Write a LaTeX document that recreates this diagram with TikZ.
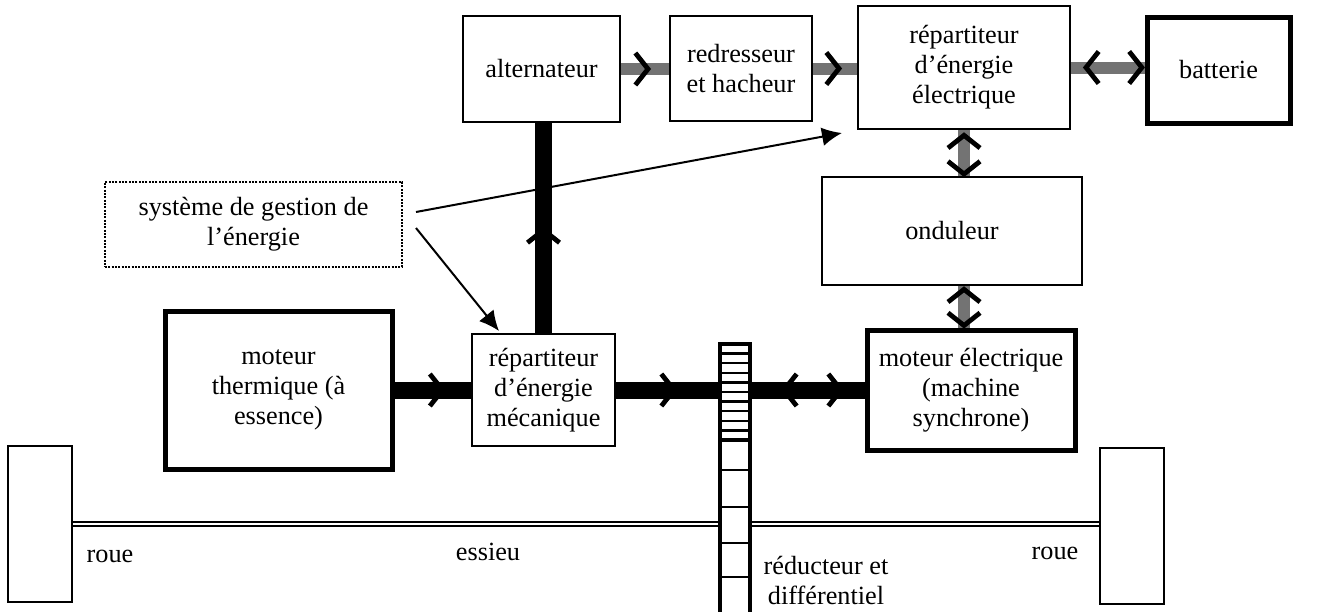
\documentclass[tikz,border=0pt]{standalone}
\usepackage{fontspec}
\setmainfont{Liberation Serif}
\usetikzlibrary{arrows.meta,decorations.markings}
\tikzset{
  box/.style={draw,line width=1.5pt,fill=white,align=center,inner sep=0pt},
  heavybox/.style={box,line width=3.75pt},
  elec/.style={line width=9pt,black!55},
  meca/.style={line width=12.75pt},
  fwd/.style={postaction={decorate,decoration={markings,mark=at position #1 with {\draw[black,line width=3.6pt,line join=miter] (-9.5pt,-12pt) -- (0pt,0pt) -- (-9.5pt,12pt);}}}},
  bwd/.style={postaction={decorate,decoration={markings,mark=at position #1 with {\draw[black,line width=3.6pt,line join=miter] (9.5pt,-12pt) -- (0pt,0pt) -- (9.5pt,12pt);}}}},
  ctrl/.style={-{Latex[length=15pt,width=14pt]},line width=1.5pt},
  rung/.style={line width=1.9pt}
}
\begin{document}
\begin{tikzpicture}[x=0.75pt,y=-0.75pt,font=\fontsize{19.7}{22.5}\selectfont]
\useasboundingbox (0,0) rectangle (1327,611);
\node[box,minimum width=117.75pt,minimum height=79.5pt] (alt) at (541.5,69) {alternateur};
\node[box,minimum width=106.5pt,minimum height=78.75pt] (redr) at (741,68.5) {redresseur\\et hacheur};
\node[box,minimum width=159pt,minimum height=92.25pt] (repel) at (964,67.5) {répartiteur\\d’énergie\\électrique};
\node[heavybox,minimum width=107.25pt,minimum height=79.5pt] (batt) at (1218.5,70) {batterie};
\node[box,minimum width=195pt,minimum height=81pt] (ond) at (952,231) {onduleur};
\node[heavybox,minimum width=156pt,minimum height=90pt] (motel) at (971,390) {moteur électrique\\(machine\\synchrone)};
\node[heavybox,minimum width=170.25pt,minimum height=118.5pt] (mth) at (278.5,390) {moteur\\thermique (à\\essence)};
\node[box,minimum width=107.25pt,minimum height=84pt] (repmec) at (543.5,390) {répartiteur\\d’énergie\\mécanique};
\node[box,densely dotted,minimum width=222.75pt,minimum height=63.75pt] (gest) at (253.5,224.5) {système de gestion de\\l’énergie};
\node[draw,line width=2pt,minimum width=48pt,minimum height=117pt] (rouel) at (40,524) {};
\node[draw,line width=2pt,minimum width=48pt,minimum height=117pt] (rouer) at (1132,526) {};
\draw[elec,fwd=20.25pt] (alt.east) -- (alt.east -| redr.west);
\draw[elec,fwd=19.5pt] (redr.east) -- (redr.east -| repel.west);
\draw[elec,bwd=11.25pt,fwd=-2pt] (repel.east) -- (repel.east -| batt.west);
\draw[elec,bwd=4pt,fwd=-1.5pt] (repel.south) -- (repel.south |- ond.north);
\draw[elec,bwd=2.5pt,fwd=-1.5pt] (repel.south |- ond.south) -- (repel.south |- motel.north);
\draw[meca,fwd=36pt] (mth.east) -- (mth.east -| repmec.west);
\draw[meca,fwd=43.5pt,bwd=126pt,fwd=168.75pt] (repmec.east) -- (motel.west);
\draw[meca,fwd=77.25pt] (repmec.north) -- (repmec.north |- alt.south);
\draw[ctrl] ([shift={(13,-12.5)}]gest.east) -- ([shift={(-15,3)}]repel.south west);
\draw[ctrl] ([shift={(13,3.5)}]gest.east) -- ([shift={(28,-2)}]repmec.north west);
\draw[double,double distance=1.5pt,line width=1.2pt] (rouel.east) -- (rouel.east -| rouer.west);
\draw[line width=3pt,fill=white] (720,344) rectangle (750,615);
\foreach \y in {353.6,363.2,...,431} \draw[rung] (720,\y) -- (750,\y);
\draw[line width=3.5pt] (720,440) -- (750,440);
\foreach \y in {470,507,543,577} \draw[rung] (720,\y) -- (750,\y);
\node (lroue) at (110,556) {roue};
\node (essieu) at (488,552) {essieu};
\node[align=center] (reduc) at (826,580) {réducteur et\\différentiel};
\node (rroue) at (1055,553) {roue};
\end{tikzpicture}
\end{document}
